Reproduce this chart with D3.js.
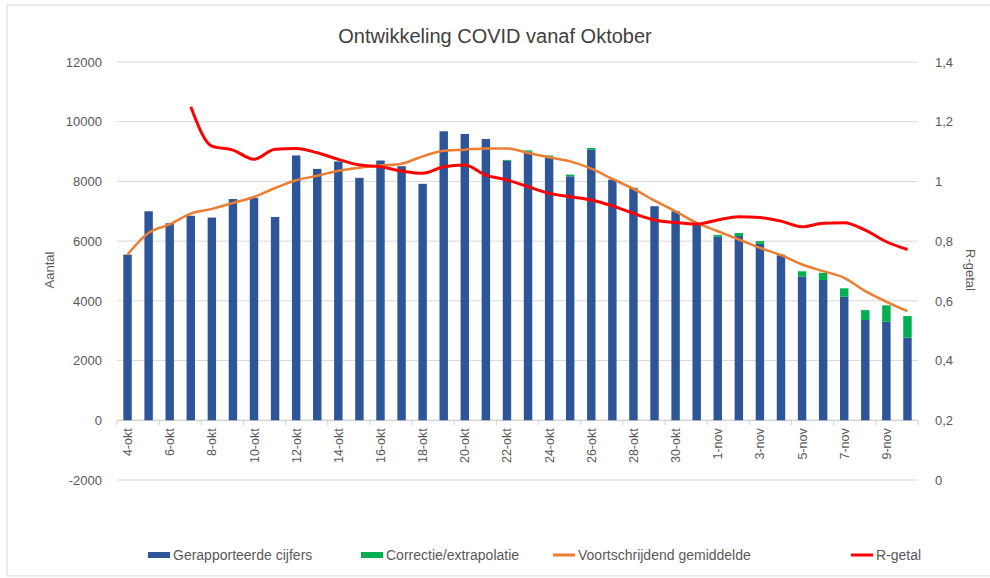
<!DOCTYPE html>
<html><head><meta charset="utf-8">
<script src="https://cdn.jsdelivr.net/npm/d3@7/dist/d3.min.js"></script>
<style>body{margin:0;background:#fff}svg{display:block}text{font-family:"Liberation Sans",Arial,sans-serif}</style>
</head><body><svg id="c" width="990" height="578"></svg>
<script>
const categories = ["4-okt","5-okt","6-okt","7-okt","8-okt","9-okt","10-okt","11-okt","12-okt","13-okt","14-okt","15-okt","16-okt","17-okt","18-okt","19-okt","20-okt","21-okt","22-okt","23-okt","24-okt","25-okt","26-okt","27-okt","28-okt","29-okt","30-okt","31-okt","1-nov","2-nov","3-nov","4-nov","5-nov","6-nov","7-nov","8-nov","9-nov","10-nov"];
const reported = [5550,7000,6600,6850,6790,7410,7450,6810,8870,8420,8670,8120,8700,8510,7920,9680,9590,9420,8690,9000,8830,8170,9060,8060,7770,7170,7000,6610,6150,6170,5910,5530,4820,4700,4140,3360,3300,2770];
const correction = [0,0,0,0,0,0,0,0,0,0,0,0,0,0,0,0,0,0,30,40,40,60,60,0,20,0,0,0,60,100,90,20,170,240,280,330,550,720];
const movingAvg = [5550,6280,6560,6920,7080,7280,7480,7780,8040,8190,8360,8460,8530,8595,8840,9030,9064,9107,9107,8953,8807,8673,8428,8083,7749,7358,7000,6612,6332,6054,5775,5530,5217,4994,4772,4325,3969,3656];
const rValue = [null,null,null,1.25,1.118,1.105,1.074,1.108,1.11,1.096,1.074,1.055,1.049,1.035,1.027,1.049,1.055,1.021,1.005,0.982,0.96,0.949,0.938,0.918,0.893,0.871,0.862,0.857,0.871,0.882,0.879,0.867,0.848,0.86,0.862,0.837,0.798,0.772];
const leftTicks = [-2000,0,2000,4000,6000,8000,10000,12000];
const rightTicks = [0,0.2,0.4,0.6,0.8,1,1.2,1.4];
const title = "Ontwikkeling COVID vanaf Oktober";
const legendItems = [
  {label:"Gerapporteerde cijfers", color:"#2E5597", type:"bar", x:148},
  {label:"Correctie/extrapolatie", color:"#00B050", type:"bar", x:361},
  {label:"Voortschrijdend gemiddelde", color:"#ED7D31", type:"line", x:553},
  {label:"R-getal", color:"#FF0000", type:"line", x:851}
];

const svg = d3.select("#c");
const L = 117, R = 918, T = 62, B = 480;
const x = d3.scaleBand().domain(categories).range([L, R]).paddingInner(0.6).paddingOuter(0.3);
const xc = d => x(d) + x.bandwidth()/2;
const y = d3.scaleLinear().domain([-2000, 12000]).range([B, T]);
const y2 = d3.scaleLinear().domain([0, 1.4]).range([B, T]);

svg.append("rect").attr("x",7).attr("y",5).attr("width",1000).attr("height",571)
  .attr("fill","none").attr("stroke","#d9d9d9");

// gridlines
svg.append("g").selectAll("line").data(leftTicks).join("line")
  .attr("x1",L).attr("x2",R).attr("y1",d=>y(d)).attr("y2",d=>y(d))
  .attr("stroke","#d9d9d9").attr("stroke-width",1);

// left axis labels
const fmtL = d => String(d);
svg.append("g").attr("transform",`translate(${L-12},0)`)
  .call(d3.axisLeft(y).tickValues(leftTicks).tickFormat(fmtL).tickSize(0))
  .call(g=>g.select(".domain").remove())
  .call(g=>g.selectAll("text").attr("fill","#595959").attr("font-size",13).attr("font-family","'Liberation Sans Narrow','Liberation Sans',Arial"));

// right axis labels
const fmtR = d => String(d).replace(".", ",");
svg.append("g").attr("transform",`translate(${R+14},0)`)
  .call(d3.axisRight(y2).tickValues(rightTicks).tickFormat(fmtR).tickSize(0))
  .call(g=>g.select(".domain").remove())
  .call(g=>g.selectAll("text").attr("fill","#595959").attr("font-size",13).attr("font-family","'Liberation Sans Narrow','Liberation Sans',Arial"));

// x axis at zero
const xa = svg.append("g").attr("transform",`translate(0,${y(0)})`);
xa.append("line").attr("x1",L).attr("x2",R).attr("stroke","#d0d0d0");
const step = x.step();
xa.selectAll("line.tk").data(categories.filter((d,i)=>i%2===0)).join("line").attr("class","tk")
  .attr("x1",d=>xc(d)-step/2).attr("x2",d=>xc(d)-step/2).attr("y1",0).attr("y2",5).attr("stroke","#d0d0d0");
xa.append("line").attr("x1",R).attr("x2",R).attr("y1",0).attr("y2",5).attr("stroke","#d0d0d0");
xa.selectAll("text").data(categories.filter((d,i)=>i%2===0)).join("text")
  .attr("transform",d=>`translate(${xc(d)+4.5},8) rotate(-90)`)
  .attr("text-anchor","end").attr("font-size",12.5).attr("fill","#595959").text(d=>d);

// bars
svg.append("g").selectAll("rect").data(categories).join("rect")
  .attr("x",d=>x(d)).attr("width",x.bandwidth())
  .attr("y",(d,i)=>y(reported[i])).attr("height",(d,i)=>y(0)-y(reported[i]))
  .attr("fill","#2E5597");
svg.append("g").selectAll("rect").data(categories).join("rect")
  .attr("x",d=>x(d)).attr("width",x.bandwidth())
  .attr("y",(d,i)=>y(reported[i]+correction[i])).attr("height",(d,i)=>y(reported[i])-y(reported[i]+correction[i]))
  .attr("fill","#00B050");

// lines
const lineMA = d3.line().x((d,i)=>xc(categories[i])).y(d=>y(d)).curve(d3.curveMonotoneX);
svg.append("path").attr("d",lineMA(movingAvg)).attr("fill","none").attr("stroke","#ED7D31").attr("stroke-width",2.5).attr("stroke-linejoin","round");
const rPts = rValue.map((v,i)=>({v,i})).filter(p=>p.v!==null);
const lineR = d3.line().x(p=>xc(categories[p.i])).y(p=>y2(p.v)).curve(d3.curveMonotoneX);
svg.append("path").attr("d",lineR(rPts)).attr("fill","none").attr("stroke","#FF0000").attr("stroke-width",3).attr("stroke-linejoin","round");

// title
svg.append("text").attr("x",495).attr("y",43).attr("text-anchor","middle").attr("font-size",20).attr("fill","#404040").text(title);

// axis titles
svg.append("text").attr("transform","translate(54,270) rotate(-90)").attr("text-anchor","middle").attr("font-size",13).attr("fill","#595959").text("Aantal");
svg.append("text").attr("transform","translate(966,270) rotate(90)").attr("text-anchor","middle").attr("font-size",13).attr("fill","#595959").text("R-getal");

// legend
const lg = svg.append("g").selectAll("g").data(legendItems).join("g").attr("transform",d=>`translate(${d.x},555)`);
lg.append("rect").attr("x",0).attr("width",22).attr("y",d=>d.type==="bar"?-3:-1.5).attr("height",d=>d.type==="bar"?6:3).attr("fill",d=>d.color);
lg.append("text").attr("x",25).attr("y",5).attr("font-size",14).attr("fill","#595959").text(d=>d.label);
</script></body></html>
